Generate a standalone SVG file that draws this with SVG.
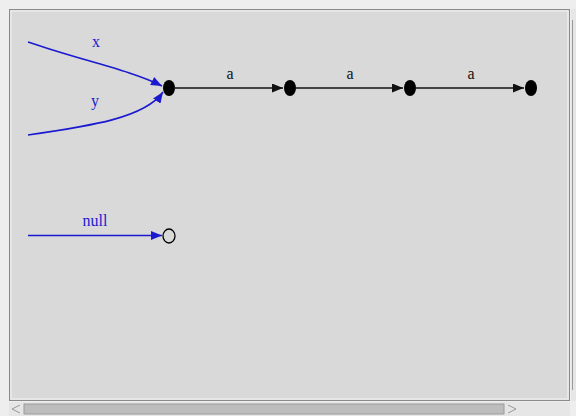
<svg xmlns="http://www.w3.org/2000/svg" width="576" height="416" viewBox="0 0 576 416">
<defs>
<style>
.lbl{font-family:"Liberation Serif","DejaVu Serif",serif;font-size:16px;text-anchor:middle}
.blue{fill:#1a1ad0}
.blk{fill:#111}
.eb{fill:none;stroke:#1a1ad0;stroke-width:1.6}
.ek{fill:none;stroke:#111;stroke-width:1.3}
</style>
<marker id="ab" viewBox="0 0 11 9" refX="11" refY="4.5" markerWidth="11" markerHeight="9" markerUnits="userSpaceOnUse" orient="auto"><path d="M0,0 L11,4.5 L0,9 z" fill="#1a1ad0"/></marker>
<marker id="ak" viewBox="0 0 11 9" refX="11" refY="4.5" markerWidth="11" markerHeight="9" markerUnits="userSpaceOnUse" orient="auto"><path d="M0,0 L11,4.5 L0,9 z" fill="#111"/></marker>
</defs>
<rect x="0" y="0" width="576" height="416" fill="#eeeeee"/>
<rect x="9.5" y="9.5" width="560" height="391" fill="#d9d9d9" stroke="#8a8a8a" stroke-width="1"/>
<rect x="11" y="11" width="557" height="388" fill="none" stroke="#f4f4f4" stroke-width="1"/>
<g id="hscroll">
<rect x="9" y="402" width="561" height="14" fill="#e6e6e6"/>
<rect x="24" y="404" width="480" height="10" fill="#bdbdbd" stroke="#9a9a9a" stroke-width="1"/>
<path d="M20,405 L12,409 L20,413" fill="none" stroke="#999" stroke-width="1"/>
<path d="M508,405 L516,409 L508,413" fill="none" stroke="#999" stroke-width="1"/>
</g>
<g id="vscroll">
<rect x="571" y="9" width="5" height="392" fill="#e6e6e6"/>
<line x1="572.5" y1="20" x2="572.5" y2="390" stroke="#9a9a9a" stroke-width="1"/>
</g>
<g id="connectors">
<path class="eb" d="M28,42 C80,60 130,70 162,86" marker-end="url(#ab)"/>
<path class="eb" d="M28,135 C90,126 145,118 163,92" marker-end="url(#ab)"/>
<path class="ek" d="M175,88 L283,88" marker-end="url(#ak)"/>
<path class="ek" d="M296,88 L403,88" marker-end="url(#ak)"/>
<path class="ek" d="M416,88 L524,88" marker-end="url(#ak)"/>
<path class="eb" d="M28,235.5 L162,235.5" marker-end="url(#ab)"/>
<text class="lbl blue" x="96" y="47">x</text>
<text class="lbl blue" x="95" y="106">y</text>
<text class="lbl blk" x="230" y="79">a</text>
<text class="lbl blk" x="350" y="79">a</text>
<text class="lbl blk" x="471" y="79">a</text>
<text class="lbl blue" x="95" y="226">null</text>
</g>
<g id="n0"><ellipse cx="169" cy="88" rx="6" ry="8" fill="#000"/></g>
<g id="n1"><ellipse cx="290" cy="88" rx="6" ry="8" fill="#000"/></g>
<g id="n2"><ellipse cx="410" cy="88" rx="6" ry="8" fill="#000"/></g>
<g id="n3"><ellipse cx="531" cy="88" rx="6" ry="8" fill="#000"/></g>
<g id="nnull"><ellipse cx="169" cy="236" rx="6" ry="7" fill="none" stroke="#000" stroke-width="1.3"/></g>
</svg>
